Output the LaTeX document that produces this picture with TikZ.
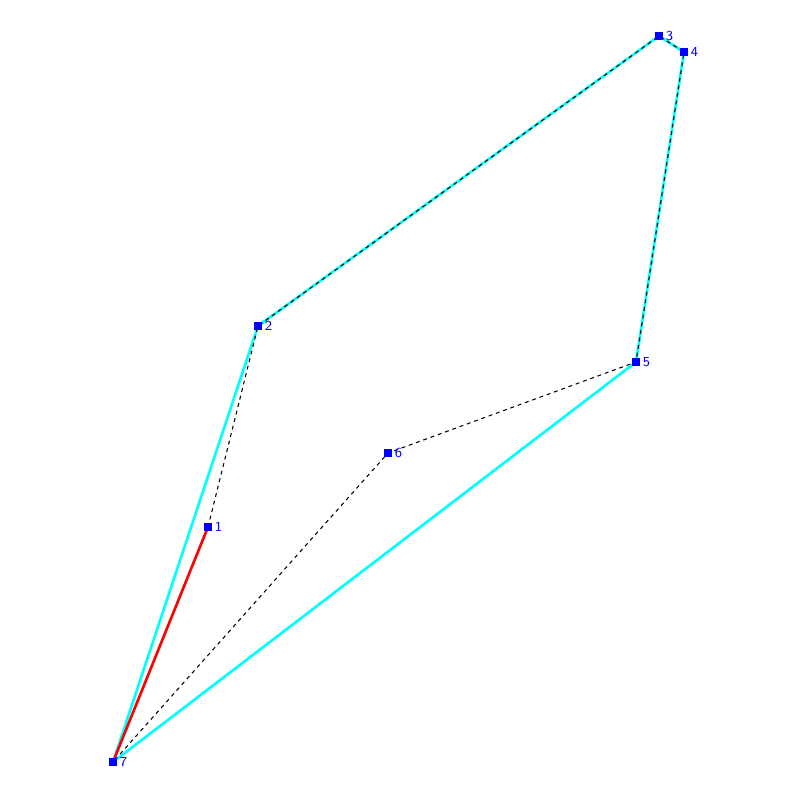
\documentclass[tikz,border=0pt]{standalone}
\usepackage{tikz}

\definecolor{hullcyan}{RGB}{0,255,255}
\definecolor{vertblue}{RGB}{0,0,255}
\definecolor{edgered}{RGB}{255,0,0}

\tikzset{
	hull/.style={line width=0.75pt, color=hullcyan},
	path/.style={line width=0.3pt, dash pattern=on 1.1pt off 1.1pt},
	edge/.style={line width=0.75pt, color=edgered},
	vert/.style={fill=vertblue, draw=none, minimum size=2.3pt, inner sep=0pt, rectangle,
		label={[text=vertblue, font=\sffamily\fontsize{3.9}{4.5}\selectfont, inner sep=0.4pt]right:#1}}
}

\begin{document}
\begin{tikzpicture}
	\useasboundingbox (0,0) rectangle (8,8);
	% vertices
	\coordinate (v1) at (2.08,2.73);
	\coordinate (v2) at (2.58,4.74);
	\coordinate (v3) at (6.59,7.64);
	\coordinate (v4) at (6.84,7.48);
	\coordinate (v5) at (6.36,4.38);
	\coordinate (v6) at (3.88,3.47);
	\coordinate (v7) at (1.13,0.38);
	% convex hull
	\draw[hull] (v7) -- (v2) -- (v3) -- (v4) -- (v5) -- cycle;
	% polygon
	\draw[path] (v1) -- (v2) -- (v3) -- (v4) -- (v5) -- (v6) -- (v7);
	% current edge
	\draw[edge] (v7) -- (v1);
	% markers
	\foreach \i in {1,...,7}
		\node[vert=\i] (p\i) at (v\i) {};
\end{tikzpicture}
\end{document}
